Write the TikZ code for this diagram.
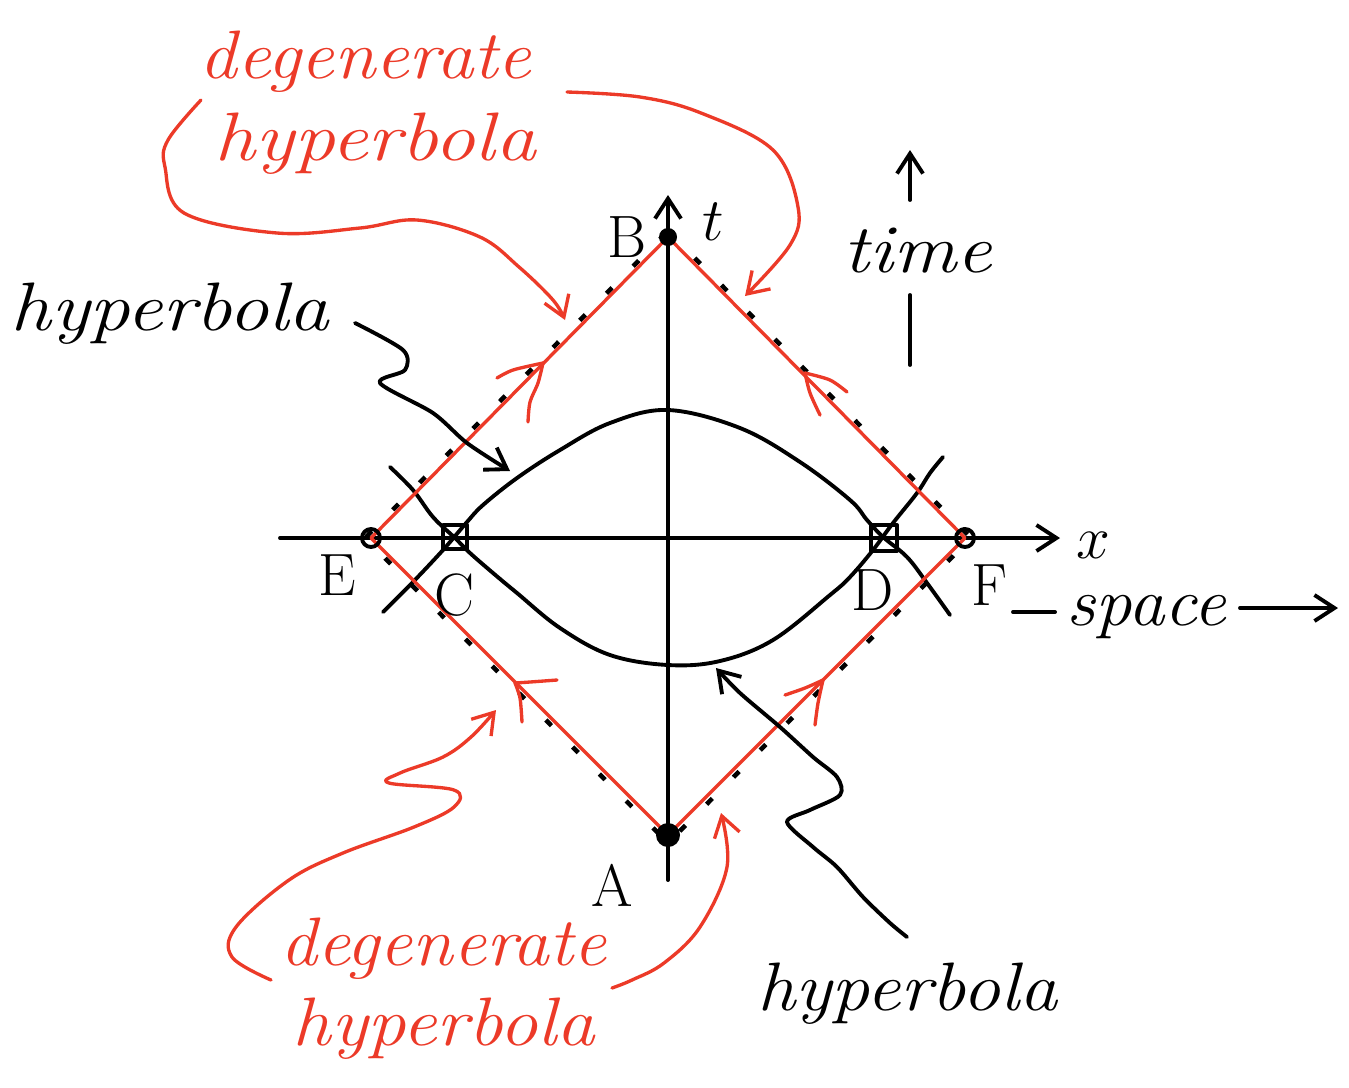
\documentclass[tikz,border=0pt]{standalone}
\usetikzlibrary{arrows.meta}
\definecolor{hred}{RGB}{236,58,40}
\newcommand\hwfont{\fontsize{19.5}{22}\selectfont\itshape}
\newcommand\lblfont{\fontsize{17}{20}\selectfont}
\newcommand\wid[2]{\scalebox{#1}[1]{#2}}
\tikzset{
  ink/.style={line width=1.1pt, line cap=round, line join=round},
  redink/.style={ink, draw=hred, line width=0.95pt},
  tipb/.style={-{Straight Barb[length=0.2cm,width=0.26cm]}},
  lightcone/.style={draw=black, line width=1.3pt, dash pattern=on 0.08cm off 0.3cm},
  hwtext/.style={font=\hwfont, inner sep=0pt, anchor=base west},
  lbl/.style={font=\lblfont, inner sep=0pt},
  redtext/.style={hwtext, text=hred},
}
\begin{document}
\begin{tikzpicture}[x=0.01cm,y=-0.01cm]
\useasboundingbox (0,0) rectangle (1349,1087);
% key points
\coordinate (O) at (668,538);
\coordinate (B) at (668,237);
\coordinate (A) at (668,835);
\coordinate (E) at (371,538);
\coordinate (F) at (965,538);
\coordinate (tbot) at (668,880);
\coordinate (ttop) at (668,195);
\coordinate (xl) at (280,538);
\coordinate (xr) at (1060,538);
% axes
\draw[ink,tipb] (tbot) -- (ttop);
\draw[ink,tipb] (xl) -- (xr);
% dashed light cone (black) under red diamond
\draw[lightcone] (668,231) -- (971,538) -- (668,843) -- (365,538) -- cycle;
% hyperbola-like curves
\draw[ink] plot[smooth,tension=0.6] coordinates {(383,612) (412,583) (443,550) (467,522) (483,505) (517,478) (560,450) (610,423) (668,410) (740,428) (800,462) (850,500) (867,520) (883,537) (907,557) (927,583) (950,615)};
\draw[ink] plot[smooth,tension=0.6] coordinates {(390,467) (413,490) (433,517) (455,538) (470,553) (493,573) (517,593) (560,628) (610,655) (668,665) (720,661) (773,640) (830,595) (850,577) (873,550) (893,523) (917,493) (930,473) (943,457)};
% red diamond
\draw[redink] (B) -- (F) -- (A) -- (E) -- cycle;
% points
\fill (B) circle (9);
\fill (A) circle (12);
\node[draw, ink, circle, minimum size=0.18cm, inner sep=0pt] (Ec) at (E) {};
\node[draw, ink, circle, minimum size=0.18cm, inner sep=0pt] (Fc) at (F) {};
\node[draw, ink, rectangle, minimum size=0.24cm, inner sep=0pt] (C) at (455,537) {};
\node[draw, ink, rectangle, minimum size=0.26cm, inner sep=0pt] (D) at (884,538) {};
% red arrowheads on edges
\draw[redink] plot[smooth] coordinates {(497,378) (513,370) (543,363)};
\draw[redink] plot[smooth] coordinates {(528,422) (530,402) (538,383) (543,363)};
\draw[redink] plot[smooth] coordinates {(847,392) (830,380) (805,373)};
\draw[redink] plot[smooth] coordinates {(820,415) (810,393) (805,373)};
\draw[redink] plot[smooth] coordinates {(557,680) (530,682) (515,683)};
\draw[redink] plot[smooth] coordinates {(522,722) (520,698) (515,683)};
\draw[redink] plot[smooth] coordinates {(785,695) (805,688) (823,680)};
\draw[redink] plot[smooth] coordinates {(815,725) (818,703) (823,680)};
% labels
\node[lbl] (Bl) at (627,237) {B};
\node[lbl] (tl) at (713,222) {$t$};
\node[lbl] (El) at (337,575) {E};
\node[lbl] (Cl) at (454,595) {C};
\node[lbl] (Dl) at (873,590) {D};
\node[lbl] (Fl) at (989,585) {F};
\node[lbl] (Al) at (612,885) {A};
\node[lbl] (xlbl) at (1093,545) {$x$};
% time
\node[hwtext] (time) at (843,272) {\wid{1.15}{time}};
\coordinate (ta1) at (910,200);
\coordinate (ta2) at (910,150);
\draw[ink,tipb] (ta1) -- (ta2);
\coordinate (tb1) at (910,295);
\coordinate (tb2) at (910,365);
\draw[ink] (tb1) -- (tb2);
% space
\node[hwtext] (space) at (1066,625) {\wid{1.06}{space}};
\coordinate (sa1) at (1013,612);
\coordinate (sa2) at (1055,612);
\draw[ink] (sa1) -- (sa2);
\coordinate (sb1) at (1240,608);
\coordinate (sb2) at (1338,608);
\draw[ink,tipb] (sb1) -- (sb2);
% texts
\node[redtext] (dg1) at (199,78) {\wid{1.09}{degenerate}};
\node[redtext] (hy1) at (214,160) {\wid{1.19}{hyperbola}};
\node[redtext] (dg2) at (280,965) {\wid{1.07}{degenerate}};
\node[redtext] (hy2) at (292,1045) {\wid{1.12}{hyperbola}};
\node[hwtext] (hb1) at (10,330) {\wid{1.18}{hyperbola}};
\node[hwtext] (hb2) at (757,1010) {\wid{1.11}{hyperbola}};
% curly connectors
\coordinate (r1s) at (201,100);
\coordinate (r1e) at (565,320);
\draw[redink,tipb] plot[smooth,tension=0.6] coordinates {(r1s) (168,140) (165,167) (184,213) (277,233) (360,228) (417,220) (480,237) (519,267) (553,300) (r1e)};
\coordinate (r2s) at (567,92);
\coordinate (r2e) at (745,296);
\draw[redink,tipb] plot[smooth,tension=0.6] coordinates {(r2s) (640,97) (701,113) (773,150) (798,207) (790,245) (r2e)};
\coordinate (r3s) at (271,980);
\coordinate (r3e) at (496,710);
\draw[redink,tipb] plot[smooth,tension=0.6] coordinates {(r3s) (232,957) (236,927) (289,880) (343,853) (414,827) (454,807) (454,790) (389,783) (400,773) (443,757) (471,737) (r3e)};
\coordinate (r4s) at (612,988);
\coordinate (r4e) at (721,813);
\draw[redink,tipb] plot[smooth,tension=0.6] coordinates {(r4s) (632,980) (664,963) (700,927) (727,867) (r4e)};
\coordinate (k1s) at (355,323);
\coordinate (k1e) at (510,471);
\draw[ink,tipb] plot[smooth,tension=0.5] coordinates {(k1s) (403,350) (405,370) (380,383) (433,413) (467,443) (k1e)};
\coordinate (k2s) at (907,937);
\coordinate (k2e) at (716,668);
\draw[ink,tipb] plot[smooth,tension=0.5] coordinates {(k2s) (890,923) (863,897) (837,867) (813,847) (787,822) (810,810) (840,795) (837,777) (813,757) (780,727) (740,693) (k2e)};
\end{tikzpicture}
\end{document}
